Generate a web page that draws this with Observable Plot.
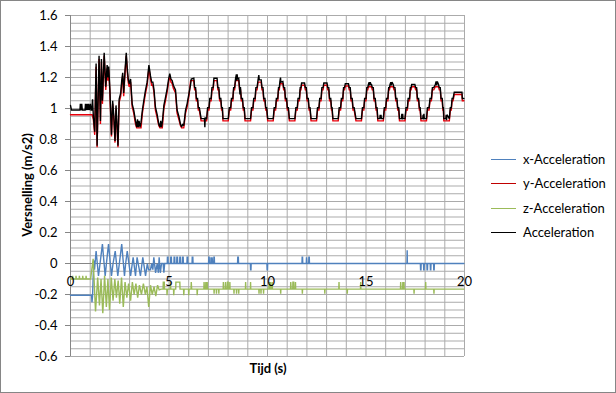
<!DOCTYPE html>
<html><head><meta charset="utf-8">
<script src="https://cdn.jsdelivr.net/npm/d3@7"></script>
<script src="https://cdn.jsdelivr.net/npm/@observablehq/plot@0.6"></script>
<style>
body{margin:0;background:#fff;}
#wrap{position:relative;width:616px;height:393px;font-family:Lato,"Open Sans",sans-serif;color:#000;overflow:hidden;}
#chart{position:absolute;left:0;top:0;}
#border{position:absolute;left:0;top:0;width:614px;height:391px;border:1px solid #868686;pointer-events:none;}
#ytitle{position:absolute;left:27px;top:185px;transform:translate(-50%,-50%) rotate(-90deg);white-space:nowrap;font-weight:bold;font-size:13px;}
#xtitle{position:absolute;left:268px;top:368px;transform:translate(-50%,-50%);white-space:nowrap;font-weight:bold;font-size:13px;}
.lg{position:absolute;left:491px;height:16px;font-size:13px;white-space:nowrap;}
.lg span.sw{position:absolute;left:0;top:7.5px;width:25px;height:1.4px;}
.lg span.tx{position:absolute;left:32px;top:0;line-height:16px;}
</style></head><body>
<div id="wrap"><div id="chart"></div>
<div id="ytitle">Versnelling (m/s2)</div>
<div id="xtitle">Tijd (s)</div>
<div id="legend"></div>
<div id="border"></div></div>
<script>
const seriesNames = ["x-Acceleration", "y-Acceleration", "z-Acceleration", "Acceleration"];
const seriesColors = ["#4f81bd", "#e8000b", "#9bbb59", "#000000"];
const legendColors = ["#4f81bd", "#c00000", "#9bbb59", "#000000"];
const xTicks = [0, 5, 10, 15, 20];
const yTicks = [-0.6, -0.4, -0.2, 0, 0.2, 0.4, 0.6, 0.8, 1, 1.2, 1.4, 1.6];

// x-Acceleration [t, value]
const xAcc = [[0,-0.205],[1.07,-0.205],[1.09,-0.25],[1.12,-0.21],[1.18,0.02],[1.22,-0.04],[1.30,0.08],[1.42,-0.08],[1.50,0.0],[1.62,0.125],[1.76,-0.08],[1.84,0.02],[1.93,0.125],[2.08,-0.08],[2.16,0.0],[2.27,0.08],[2.40,-0.08],[2.48,0.0],[2.60,0.125],[2.74,-0.08],[2.80,0.0],[2.88,0.08],[3.05,-0.08],[3.18,0.04],[3.30,-0.08],[3.38,0.04],[3.55,-0.08],[3.67,0.04],[3.81,-0.08],[3.90,0.0],[3.96,-0.04],[4.06,-0.04],[4.12,0.0],[4.18,-0.04],[4.23,0.04],[4.32,-0.06],[4.40,0.0],[4.46,-0.06],[4.50,0.04],[4.56,-0.06],[4.62,0.0],[4.70,0.0],[4.74,-0.06],[4.78,0.0],
[4.91,0.0],[4.92,0.04],[4.95,0.04],[4.96,0.0],[5.08,0.0],[5.09,0.04],[5.12,0.04],[5.13,0.0],[5.25,0.0],[5.26,0.04],[5.29,0.04],[5.3,0.0],[5.39,0.0],[5.4,0.04],[5.43,0.04],[5.44,0.0],[5.54,0.0],[5.55,0.04],[5.58,0.04],[5.59,0.0],[5.68,0.0],[5.69,0.04],[5.72,0.04],[5.73,0.0],[5.91,0.0],[5.92,0.04],[5.95,0.04],[5.96,0.0],[6.17,0.0],[6.18,0.04],[6.21,0.04],[6.22,0.0],
[7.01,0.0],[7.02,0.04],[7.04,0.04],[7.05,0.0],[7.12,0.0],[7.13,0.04],[7.15,0.0],[7.18,0.0],[7.19,0.04],[7.21,0.0],[7.27,0.0],[7.28,0.04],[7.30,0.04],[7.31,0.0],[8.48,0.0],[8.49,0.04],[8.52,0.04],[8.53,0.0],[9.13,0.0],[9.14,-0.04],[9.16,-0.04],[9.17,0.0],[9.97,0.0],[9.98,-0.04],[10.0,-0.04],[10.01,0.0],
[11.75,0.0],[11.76,0.04],[11.78,0.04],[11.79,0.0],[11.97,0.0],[11.98,0.04],[12.0,0.0],[12.09,0.0],[12.1,0.04],[12.12,0.04],[12.13,0.0],[17.08,0.0],[17.09,0.085],[17.1,0.0],
[17.76,0.0],[17.77,-0.04],[17.79,-0.04],[17.8,0.0],[17.92,0.0],[17.93,-0.04],[17.95,-0.04],[17.96,0.0],[18.09,0.0],[18.1,-0.04],[18.12,-0.04],[18.13,0.0],[18.26,0.0],[18.27,-0.04],[18.29,-0.04],[18.3,0.0],[18.43,0.0],[18.44,-0.04],[18.46,-0.04],[18.47,0.0],[19.97,0.0]];

// y-Acceleration [t, value]
const yAcc = [[0,0.96],[1.10,0.96],[1.16,0.93],[1.23,0.83],[1.30,1.27],[1.35,0.75],[1.45,1.32],[1.52,0.90],[1.57,1.30],[1.62,1.03],[1.71,1.34],[1.79,1.12],[1.86,1.26],[1.90,1.18],[1.94,1.25],[2.00,1.10],[2.08,0.82],[2.14,1.03],[2.20,0.93],[2.26,0.78],[2.31,1.00],[2.36,0.88],[2.41,0.75],[2.47,1.04],[2.55,1.08],[2.60,1.16],[2.65,1.21],[2.70,1.08],[2.77,1.23],[2.83,1.34],[2.88,1.24],[2.93,1.17],[2.98,1.14],[3.05,1.17],[3.13,1.01],[3.21,0.97],[3.30,0.90],[3.36,0.875],[3.58,0.875],[3.65,0.97],[3.72,1.03],[3.81,1.10],[3.89,1.15],[3.98,1.26],[4.06,1.19],[4.12,1.15],[4.18,1.15],[4.24,1.10],[4.31,0.99],[4.40,0.94],[4.48,0.89],[4.54,0.875],[4.66,0.875],[4.74,1.00],[4.82,1.05],[4.91,1.11],[4.98,1.17],[5.04,1.21],[5.10,1.17],[5.16,1.16],[5.22,1.13],[5.33,1.10],[5.41,0.97],[5.50,0.93],[5.58,0.89],[5.64,0.875],[5.75,0.875],[5.84,0.97],[5.92,1.01],[6.01,1.08],[6.10,1.18],
[6.26,1.18],[6.30,1.12],[6.35,1.12],[6.39,1.05],[6.45,1.05],[6.49,0.99],[6.54,0.99],[6.63,0.92],
[6.91,0.92],[6.96,0.99],[7.03,0.99],[7.07,1.05],[7.14,1.05],[7.18,1.12],[7.24,1.12],[7.28,1.18],
[7.44,1.18],[7.48,1.12],[7.53,1.12],[7.57,1.05],[7.63,1.05],[7.67,0.99],[7.71,0.99],[7.74,0.92],
[8.01,0.92],[8.06,0.99],[8.13,0.99],[8.17,1.05],[8.24,1.05],[8.28,1.12],[8.33,1.12],[8.38,1.18],
[8.54,1.18],[8.58,1.12],[8.63,1.12],[8.67,1.05],[8.73,1.05],[8.77,0.99],[8.82,0.99],[8.86,0.92],
[9.14,0.92],[9.19,0.99],[9.26,0.99],[9.30,1.05],[9.37,1.05],[9.41,1.12],[9.47,1.12],[9.52,1.17],
[9.68,1.17],[9.72,1.12],[9.77,1.12],[9.81,1.05],[9.87,1.05],[9.91,0.99],[9.96,0.99],[10.01,0.92],
[10.29,0.92],[10.34,0.99],[10.41,0.99],[10.45,1.05],[10.52,1.05],[10.56,1.12],[10.60,1.12],[10.63,1.16],
[10.78,1.16],[10.82,1.12],[10.87,1.12],[10.91,1.05],[10.97,1.05],[11.01,0.99],[11.06,0.99],[11.11,0.92],
[11.39,0.92],[11.44,0.99],[11.51,0.99],[11.55,1.05],[11.62,1.05],[11.66,1.12],[11.70,1.12],[11.73,1.15],
[11.88,1.15],[11.92,1.12],[11.97,1.12],[12.01,1.05],[12.07,1.05],[12.11,0.99],[12.16,0.99],[12.21,0.92],
[12.49,0.92],[12.54,0.99],[12.61,0.99],[12.65,1.05],[12.72,1.05],[12.76,1.12],[12.82,1.12],[12.86,1.15],
[13.02,1.15],[13.06,1.12],[13.11,1.12],[13.15,1.05],[13.21,1.05],[13.25,0.99],[13.28,0.99],[13.32,0.92],
[13.59,0.92],[13.64,0.99],[13.71,0.99],[13.75,1.05],[13.82,1.05],[13.86,1.12],[13.91,1.12],[13.95,1.145],
[14.11,1.145],[14.15,1.12],[14.20,1.12],[14.24,1.05],[14.30,1.05],[14.34,0.99],[14.40,0.99],[14.49,0.92],
[14.77,0.92],[14.82,0.99],[14.89,0.99],[14.93,1.05],[15.00,1.05],[15.04,1.12],[15.09,1.12],[15.12,1.14],
[15.28,1.14],[15.32,1.12],[15.37,1.12],[15.41,1.05],[15.47,1.05],[15.51,0.99],[15.56,0.99],[15.60,0.92],
[15.88,0.92],[15.93,0.99],[16.00,0.99],[16.04,1.05],[16.11,1.05],[16.15,1.12],[16.19,1.12],[16.22,1.14],
[16.38,1.14],[16.42,1.12],[16.47,1.12],[16.51,1.05],[16.57,1.05],[16.61,0.99],[16.66,0.99],[16.70,0.92],
[16.98,0.92],[17.03,0.99],[17.10,0.99],[17.14,1.05],[17.21,1.05],[17.25,1.12],[17.29,1.12],[17.32,1.14],
[17.48,1.14],[17.52,1.12],[17.57,1.12],[17.61,1.05],[17.67,1.05],[17.71,0.99],[17.75,0.99],[17.79,0.92],
[18.07,0.92],[18.12,0.99],[18.20,0.99],[18.25,1.05],[18.32,1.05],[18.37,1.12],[18.44,1.12],[18.52,1.14],
[18.68,1.14],[18.72,1.12],[18.77,1.12],[18.81,1.05],[18.87,1.05],[18.90,0.99],[18.93,0.99],[18.95,0.92],
[19.23,0.92],[19.28,0.99],[19.33,0.99],[19.37,1.05],[19.42,1.05],[19.48,1.09],[19.87,1.09],[19.89,1.05],[19.97,1.05]];

// z-Acceleration [t, value]
const zAcc = [[0,-0.1],[0.10,-0.1],[0.11,-0.08],[0.13,-0.1],[0.27,-0.1],[0.28,-0.08],[0.30,-0.1],[0.44,-0.1],[0.45,-0.08],[0.47,-0.1],[0.61,-0.1],[0.62,-0.08],[0.64,-0.1],[0.78,-0.1],[0.79,-0.08],[0.81,-0.1],[1.02,-0.1],
[1.15,0.03],[1.27,-0.31],[1.38,-0.09],[1.47,-0.27],[1.55,-0.1],[1.64,-0.32],[1.73,-0.08],[1.82,-0.28],[1.90,-0.1],[1.98,-0.30],[2.07,-0.09],[2.16,-0.24],[2.25,-0.1],[2.33,-0.22],[2.42,-0.11],[2.50,-0.26],[2.59,-0.09],[2.68,-0.28],[2.77,-0.12],[2.86,-0.22],[2.95,-0.13],[3.05,-0.24],[3.14,-0.12],[3.23,-0.2],[3.32,-0.13],[3.41,-0.22],[3.50,-0.14],[3.60,-0.2],[3.70,-0.13],[3.80,-0.2],[3.88,-0.15],[3.97,-0.28],[4.06,-0.14],[4.15,-0.2],[4.24,-0.15],[4.33,-0.21],[4.42,-0.14],[4.50,-0.17],[4.60,-0.165],
[4.70,-0.165],[4.71,-0.12],[4.76,-0.12],[4.77,-0.165],[4.89,-0.165],[4.90,-0.205],[4.92,-0.165],[5.06,-0.165],[5.07,-0.12],[5.09,-0.165],[5.23,-0.165],[5.24,-0.205],[5.26,-0.165],[5.34,-0.165],[5.35,-0.12],[5.55,-0.12],[5.56,-0.165],[5.74,-0.165],[5.75,-0.205],[5.77,-0.165],[5.99,-0.165],[6.0,-0.205],[6.02,-0.165],[6.12,-0.165],[6.13,-0.12],[6.15,-0.165],[6.42,-0.165],[6.43,-0.205],[6.45,-0.165],
[6.77,-0.165],[6.78,-0.12],[6.80,-0.165],[6.86,-0.165],[6.87,-0.12],[6.89,-0.165],[6.93,-0.165],[6.94,-0.12],[6.95,-0.165],[7.28,-0.165],[7.29,-0.195],[7.30,-0.165],[7.40,-0.165],[7.41,-0.195],[7.42,-0.165],[7.52,-0.165],[7.53,-0.195],[7.54,-0.165],
[7.75,-0.165],[7.76,-0.12],[7.78,-0.165],[7.86,-0.165],[7.87,-0.12],[7.89,-0.165],[7.96,-0.165],[7.97,-0.12],[8.00,-0.12],[8.01,-0.165],[8.08,-0.165],[8.09,-0.12],[8.10,-0.165],[8.29,-0.165],[8.30,-0.195],[8.31,-0.165],[8.42,-0.165],[8.43,-0.195],[8.44,-0.165],[8.53,-0.165],[8.54,-0.195],[8.55,-0.165],
[8.88,-0.165],[8.89,-0.12],[8.90,-0.165],[9.13,-0.165],[9.14,-0.12],[9.15,-0.165],[9.56,-0.165],[9.57,-0.195],[9.58,-0.165],[9.66,-0.165],[9.67,-0.195],[9.68,-0.165],[9.79,-0.165],[9.80,-0.195],[9.81,-0.165],
[10.07,-0.165],[10.08,-0.12],[10.10,-0.165],[10.14,-0.165],[10.15,-0.12],[10.17,-0.165],[10.23,-0.165],[10.24,-0.12],[10.25,-0.165],[10.66,-0.165],[10.67,-0.195],[10.68,-0.165],
[11.17,-0.165],[11.18,-0.12],[11.20,-0.165],[11.28,-0.165],[11.29,-0.12],[11.33,-0.12],[11.34,-0.165],[11.41,-0.165],[11.42,-0.12],[11.43,-0.165],[11.76,-0.165],[11.77,-0.195],[11.78,-0.165],[12.90,-0.165],[12.91,-0.195],[12.92,-0.165],
[13.62,-0.165],[13.63,-0.12],[13.64,-0.165],[14.04,-0.165],[14.05,-0.195],[14.06,-0.165],[14.72,-0.165],[14.73,-0.12],[14.74,-0.165],[16.75,-0.165],[16.76,-0.12],[16.78,-0.165],[16.86,-0.165],[16.87,-0.12],[16.89,-0.165],[16.92,-0.165],[16.93,-0.12],[16.94,-0.165],
[17.43,-0.165],[17.44,-0.195],[17.45,-0.165],[18.02,-0.165],[18.03,-0.12],[18.04,-0.165],[18.44,-0.165],[18.45,-0.195],[18.46,-0.165],[19.97,-0.165]];

// Acceleration (magnitude) [t, value]
const acc = [[0,1.02],[0.05,0.99],[0.48,0.99],[0.50,1.03],[0.53,0.99],[0.57,1.03],[0.60,0.99],[0.74,0.99],[0.76,1.03],[0.79,0.99],[0.84,1.03],[0.87,0.99],[0.92,1.03],[0.95,0.99],[1.01,1.03],[1.04,0.99],[1.08,0.99],[1.12,1.06],[1.16,0.95],[1.23,0.85],[1.30,1.29],[1.35,0.76],[1.45,1.34],[1.52,0.92],[1.57,1.32],[1.62,1.05],[1.71,1.36],[1.79,1.14],[1.86,1.28],[1.90,1.20],[1.94,1.27],[2.00,1.12],[2.08,0.83],[2.14,1.05],[2.20,0.95],[2.26,0.79],[2.31,1.02],[2.36,0.90],[2.41,0.76],[2.47,1.06],[2.55,1.10],[2.60,1.18],[2.65,1.23],[2.70,1.10],[2.77,1.25],[2.83,1.36],[2.88,1.26],[2.93,1.19],[2.98,1.16],[3.05,1.19],[3.13,1.03],[3.21,0.99],[3.30,0.92],[3.36,0.88],[3.40,0.93],[3.44,0.88],[3.48,0.92],[3.53,0.88],[3.58,0.91],[3.65,0.99],[3.72,1.05],[3.81,1.12],[3.89,1.17],[3.98,1.28],[4.06,1.21],[4.12,1.17],[4.18,1.17],[4.24,1.12],[4.31,1.01],[4.40,0.96],[4.48,0.90],[4.54,0.88],[4.58,0.92],[4.62,0.88],[4.66,0.91],[4.74,1.02],[4.82,1.07],[4.91,1.13],[4.98,1.19],[5.04,1.225],[5.10,1.19],[5.16,1.18],[5.22,1.15],[5.33,1.12],[5.41,0.99],[5.50,0.95],[5.58,0.90],[5.64,0.88],[5.70,0.90],[5.75,0.89],[5.84,0.99],[5.92,1.03],[6.01,1.095],[6.09,1.15],[6.13,1.19],
[6.26,1.195],[6.30,1.135],[6.35,1.135],[6.39,1.065],[6.45,1.065],[6.49,1.005],[6.54,1.005],[6.63,0.935],[6.80,0.935],[6.82,0.88],[6.84,0.94],[6.91,0.935],[6.96,1.005],[7.03,1.005],[7.07,1.065],[7.14,1.065],[7.18,1.135],[7.24,1.135],[7.28,1.195],[7.44,1.195],[7.48,1.135],[7.53,1.135],[7.57,1.065],[7.63,1.065],[7.67,1.005],[7.71,1.005],[7.74,0.935],
[8.01,0.935],[8.06,1.005],[8.13,1.005],[8.17,1.065],[8.24,1.065],[8.28,1.135],[8.33,1.135],[8.38,1.195],[8.42,1.22],[8.44,1.18],[8.46,1.22],[8.48,1.19],[8.54,1.195],[8.58,1.135],[8.60,1.09],[8.62,1.135],[8.63,1.135],[8.67,1.065],[8.73,1.065],[8.77,1.005],[8.82,1.005],[8.86,0.935],
[9.14,0.935],[9.19,1.005],[9.26,1.005],[9.30,1.065],[9.37,1.065],[9.41,1.135],[9.47,1.135],[9.52,1.185],[9.56,1.215],[9.58,1.185],[9.68,1.185],[9.72,1.135],[9.77,1.135],[9.81,1.065],[9.87,1.065],[9.91,1.005],[9.96,1.005],[10.01,0.935],
[10.29,0.935],[10.34,1.005],[10.41,1.005],[10.45,1.065],[10.52,1.065],[10.56,1.135],[10.60,1.135],[10.63,1.175],[10.66,1.2],[10.68,1.17],[10.78,1.175],[10.82,1.135],[10.87,1.135],[10.91,1.065],[10.97,1.065],[11.01,1.005],[11.06,1.005],[11.11,0.935],
[11.39,0.935],[11.44,1.005],[11.51,1.005],[11.55,1.065],[11.62,1.065],[11.66,1.135],[11.70,1.135],[11.73,1.165],[11.88,1.165],[11.92,1.135],[11.97,1.135],[12.01,1.065],[12.07,1.065],[12.11,1.005],[12.16,1.005],[12.21,0.935],
[12.49,0.935],[12.54,1.005],[12.61,1.005],[12.65,1.065],[12.72,1.065],[12.76,1.135],[12.82,1.135],[12.86,1.165],[13.02,1.165],[13.06,1.135],[13.11,1.135],[13.15,1.065],[13.21,1.065],[13.25,1.005],[13.28,1.005],[13.32,0.935],
[13.59,0.935],[13.64,1.005],[13.71,1.005],[13.75,1.065],[13.82,1.065],[13.86,1.135],[13.91,1.135],[13.95,1.16],[14.11,1.16],[14.15,1.135],[14.20,1.135],[14.24,1.065],[14.30,1.065],[14.34,1.005],[14.40,1.005],[14.49,0.935],
[14.77,0.935],[14.82,1.005],[14.89,1.005],[14.93,1.065],[15.00,1.065],[15.04,1.135],[15.09,1.135],[15.12,1.155],[15.16,1.17],[15.18,1.15],[15.22,1.17],[15.24,1.155],[15.28,1.155],[15.32,1.135],[15.37,1.135],[15.41,1.065],[15.47,1.065],[15.51,1.005],[15.56,1.005],[15.60,0.935],[15.70,0.935],[15.72,0.96],[15.74,0.935],[15.76,0.96],[15.78,0.935],
[15.88,0.935],[15.93,1.005],[16.00,1.005],[16.04,1.065],[16.11,1.065],[16.15,1.135],[16.19,1.135],[16.22,1.155],[16.26,1.17],[16.28,1.15],[16.32,1.17],[16.38,1.155],[16.42,1.135],[16.47,1.135],[16.51,1.065],[16.57,1.065],[16.61,1.005],[16.66,1.005],[16.70,0.935],[16.80,0.935],[16.82,0.965],[16.84,0.93],[16.86,0.965],[16.88,0.935],
[16.98,0.935],[17.03,1.005],[17.10,1.005],[17.14,1.065],[17.21,1.065],[17.25,1.135],[17.29,1.135],[17.32,1.155],[17.48,1.155],[17.52,1.135],[17.57,1.135],[17.61,1.065],[17.67,1.065],[17.71,1.005],[17.75,1.005],[17.79,0.935],[17.88,0.935],[17.90,0.96],[17.92,0.93],[17.94,0.965],[17.96,0.935],
[18.07,0.935],[18.12,1.005],[18.20,1.005],[18.25,1.065],[18.32,1.065],[18.37,1.135],[18.44,1.135],[18.52,1.155],[18.56,1.175],[18.58,1.15],[18.62,1.175],[18.68,1.155],[18.72,1.135],[18.77,1.135],[18.81,1.065],[18.87,1.065],[18.90,1.005],[18.93,1.005],[18.95,0.935],[19.05,0.935],[19.07,0.96],[19.09,0.925],[19.11,0.96],
[19.23,0.935],[19.28,1.005],[19.33,1.005],[19.37,1.065],[19.42,1.065],[19.48,1.105],[19.87,1.105],[19.89,1.065],[19.97,1.065]];

const series = [xAcc, yAcc, zAcc, acc];

const minorY = d3.range(0, 45).map(i => +(-0.6 + i * 0.05).toFixed(2));
const minorX = d3.range(0, 21);

const chart = Plot.plot({
  width: 616,
  height: 393,
  marginLeft: 70,
  marginRight: 152,
  marginTop: 15,
  marginBottom: 37,
  style: {fontFamily: "Lato, 'Open Sans', sans-serif", fontSize: "13px", color: "#000", background: "transparent"},
  x: {domain: [0, 20], axis: null},
  y: {domain: [-0.6, 1.6], axis: null},
  marks: [
    Plot.ruleY(minorY, {y: d => d, stroke: "#ababab", strokeWidth: 1}),
    Plot.ruleX(minorX, {x: d => d, stroke: "#ababab", strokeWidth: 1}),
    Plot.ruleX([0], {x: d => d, stroke: "#868686"}),
    Plot.ruleY([0], {y: d => d, stroke: "#868686"}),
    Plot.axisY(yTicks, {tickSize: 5, tickPadding: 8, tickFormat: d => String(d), stroke: "#868686", fill: "#000", fontSize: 13}),
    ...series.map((s, i) => Plot.line(s, {x: d => d[0], y: d => d[1], stroke: seriesColors[i], strokeWidth: 1.4, strokeLinejoin: "miter", strokeMiterlimit: 2})),
    Plot.text(xTicks, {x: d => d, y: 0, dy: 18, text: d => String(d), fill: "#000", fontSize: 13})
  ]
});
document.getElementById("chart").appendChild(chart);

const legend = document.getElementById("legend");
const legendTops = [151, 175, 200, 224];
seriesNames.forEach((name, i) => {
  const row = document.createElement("div");
  row.className = "lg";
  row.style.top = legendTops[i] + "px";
  row.innerHTML = `<span class="sw" style="background:${legendColors[i]}"></span><span class="tx">${name}</span>`;
  legend.appendChild(row);
});
</script>
</body></html>
